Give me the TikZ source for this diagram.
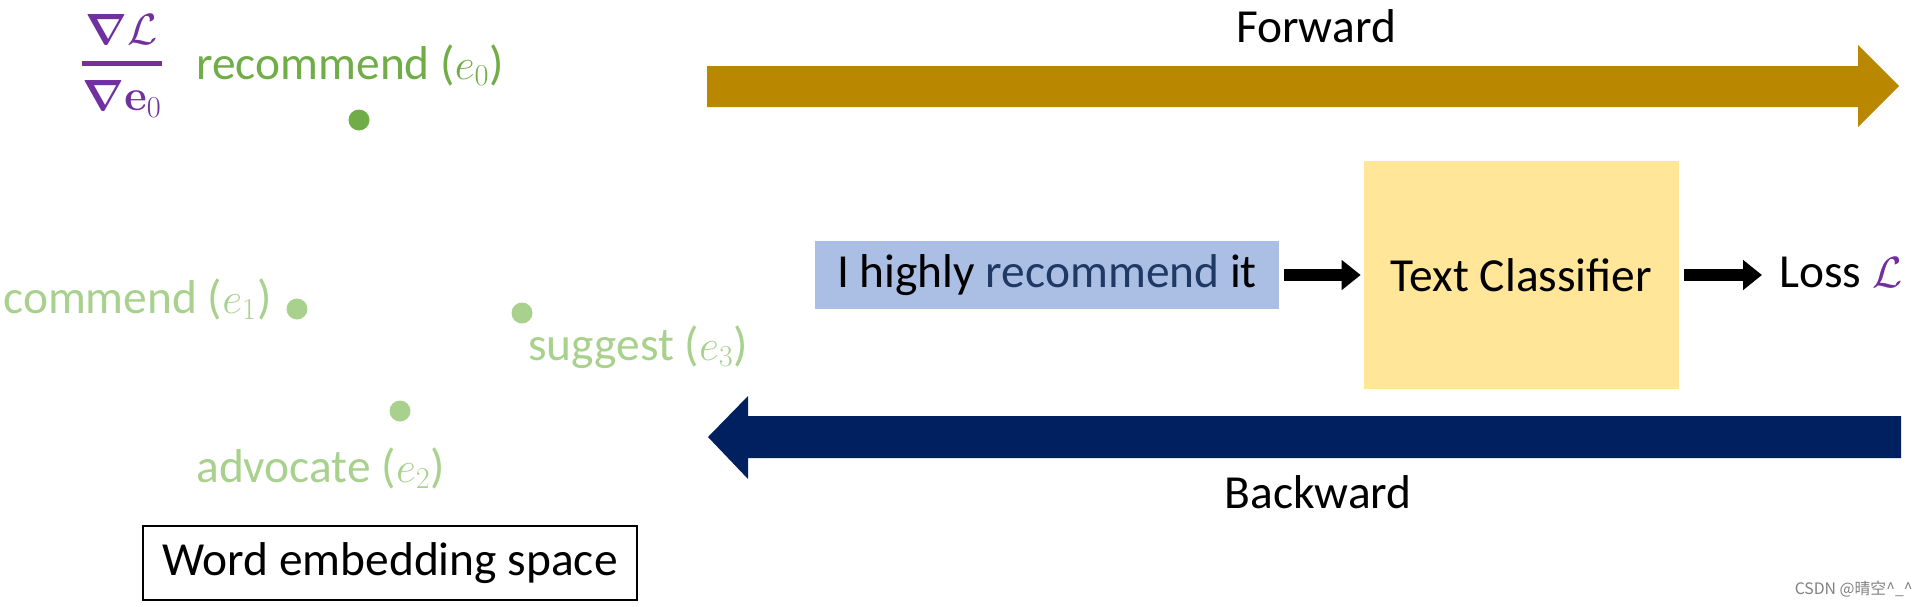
\documentclass[tikz,border=0pt]{standalone}
\usepackage{amsmath}
\usepackage[no-math]{fontspec}
\setmainfont{Carlito}
\newfontfamily\cjkfont{Noto Sans CJK SC}
\usetikzlibrary{arrows.meta}

\definecolor{gradpurple}{HTML}{7030A0}
\definecolor{wordgreen}{HTML}{70AD47}
\definecolor{lightgreen}{HTML}{A9D18E}
\definecolor{inputblue}{HTML}{AABFE3}
\definecolor{darkblue}{HTML}{203864}
\definecolor{classyellow}{HTML}{FFE699}
\definecolor{forwardgold}{HTML}{B98700}
\definecolor{backwardnavy}{HTML}{002060}

\tikzstyle{wordtext} = [inner sep=0pt, anchor=base west]
\tikzstyle{worddot} = [circle, inner sep=0pt, minimum size=0.42cm]
\tikzstyle{spacebox} = [rectangle, minimum width=9.88cm, minimum height=1.48cm, text centered, draw=black, line width=1.5pt]
\tikzstyle{inputbox} = [rectangle, minimum width=9.28cm, minimum height=1.36cm, text centered, fill=inputblue]
\tikzstyle{classbox} = [rectangle, minimum width=6.3cm, minimum height=4.56cm, text centered, fill=classyellow]
\tikzstyle{flow} = [-{Triangle[length=0.38cm, width=0.58cm]}, line width=0.24cm, shorten <=0.1cm, shorten >=0.06cm]

\begin{document}
\begin{tikzpicture}[x=0.02cm, y=-0.02cm, font=\fontsize{27}{32}\selectfont]
	\useasboundingbox (0,0) rectangle (1917,606);

	% embedding space
	\node (gradFrac) [text=gradpurple, font=\fontsize{23}{27}\selectfont] at (122,66) {$\displaystyle\genfrac{}{}{2.8pt}{0}{\boldsymbol{\nabla}\mathcal{L}}{\boldsymbol{\nabla}\mathbf{e}_0}$};
	\node (recommendWord) [wordtext, text=wordgreen] at (196,79) {recommend ($e_0$)};
	\node (recommendDot) [worddot, fill=wordgreen] at (359,120) {};
	\node (commendWord) [wordtext, text=lightgreen] at (3,313) {commend ($e_1$)};
	\node (commendDot) [worddot, fill=lightgreen] at (297,309) {};
	\node (suggestDot) [worddot, fill=lightgreen] at (522,313) {};
	\node (suggestWord) [wordtext, text=lightgreen] at (528,360) {suggest ($e_3$)};
	\node (advocateDot) [worddot, fill=lightgreen] at (400,411) {};
	\node (advocateWord) [wordtext, text=lightgreen] at (196,482) {advocate ($e_2$)};
	\node (space) [spacebox] at (390,563) {Word embedding space};

	% forward and backward
	\fill [forwardgold] (707,66) -- (1858,66) -- (1858,45) -- (1899,86) -- (1858,127) -- (1858,107) -- (707,107) -- cycle;
	\node (forward) [anchor=base, inner sep=0pt] at (1316,42) {Forward};
	\fill [backwardnavy] (1901,416) -- (748,416) -- (748,396) -- (708,437) -- (748,479) -- (748,458) -- (1901,458) -- cycle;
	\node (backward) [anchor=base, inner sep=0pt] at (1318,508) {Backward};

	% classifier
	\node (sentence) [inputbox] at (1047,275) {I highly \textcolor{darkblue}{recommend} it};
	\node (classifier) [classbox] at (1521.5,275) {Text Classifier};
	\node (loss) [wordtext] at (1779,287) {Loss \textcolor{gradpurple}{$\mathcal{L}$}};

	\draw [flow] (sentence) -- (classifier);
	\draw [flow, shorten >=0.34cm] (classifier) -- (classifier -| loss.west);

	\node (mark) [anchor=base east, inner sep=0pt, text=gray, font=\cjkfont\fontsize{9}{11}\selectfont] at (1913,594) {CSDN @晴空\^{}\_\^{}};

\end{tikzpicture}
\end{document}
